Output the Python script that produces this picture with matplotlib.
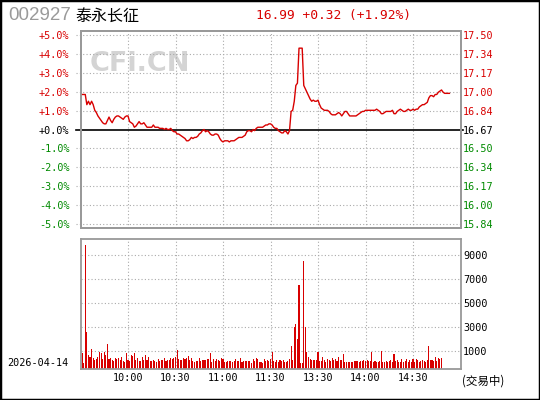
import numpy as np
import matplotlib
matplotlib.use("Agg")
import matplotlib.pyplot as plt
from matplotlib.patches import Rectangle

# dados do gráfico (minuto a minuto)
codigo = "002927"
nome = "泰永长征"
data_pregao = "2026-04-14"
fechamento_anterior = 16.67
preco_atual = 16.99

precos = [
    16.98, 16.98, 16.98, 16.98, 16.89, 16.92, 16.89, 16.92, 16.89, 16.84,
    16.82, 16.79, 16.77, 16.75, 16.73, 16.72, 16.72, 16.75, 16.78, 16.75,
    16.73, 16.76, 16.78, 16.79, 16.79, 16.78, 16.77, 16.76, 16.78, 16.79,
    16.79, 16.74, 16.73, 16.72, 16.69, 16.70, 16.72, 16.74, 16.72, 16.72,
    16.73, 16.71, 16.69, 16.69, 16.69, 16.69, 16.71, 16.69, 16.69, 16.69,
    16.68, 16.68, 16.68, 16.67, 16.68, 16.67, 16.67, 16.68, 16.66, 16.65,
    16.65, 16.63, 16.63, 16.62, 16.61, 16.60, 16.59, 16.57, 16.57, 16.58,
    16.60, 16.59, 16.60, 16.60, 16.61, 16.63, 16.64, 16.66, 16.67, 16.65,
    16.66, 16.65, 16.63, 16.62, 16.62, 16.63, 16.63, 16.62, 16.59, 16.57,
    16.56, 16.57, 16.57, 16.57, 16.56, 16.57, 16.57, 16.57, 16.58, 16.59,
    16.60, 16.60, 16.60, 16.61, 16.62, 16.65, 16.66, 16.66, 16.65, 16.67,
    16.66, 16.68, 16.69, 16.69, 16.69, 16.69, 16.70, 16.71, 16.71, 16.72,
    16.72, 16.71, 16.69, 16.68, 16.68, 16.66, 16.65, 16.64, 16.64, 16.66,
    16.65, 16.63, 16.66, 16.83, 16.84, 16.92, 17.06, 17.08, 17.39, 17.39,
    17.39, 17.06, 17.03, 17.00, 16.97, 16.94, 16.92, 16.93, 16.92, 16.92,
    16.93, 16.89, 16.86, 16.85, 16.84, 16.84, 16.84, 16.83, 16.81, 16.80,
    16.80, 16.80, 16.81, 16.82, 16.81, 16.79, 16.81, 16.83, 16.83, 16.81,
    16.79, 16.79, 16.79, 16.79, 16.79, 16.80, 16.81, 16.82, 16.83, 16.83,
    16.84, 16.84, 16.84, 16.84, 16.84, 16.84, 16.84, 16.85, 16.84, 16.83,
    16.81, 16.81, 16.82, 16.83, 16.83, 16.83, 16.83, 16.84, 16.81, 16.81,
    16.83, 16.84, 16.85, 16.84, 16.83, 16.83, 16.84, 16.85, 16.84, 16.84,
    16.85, 16.84, 16.85, 16.85, 16.87, 16.88, 16.89, 16.89, 16.90, 16.91,
    16.95, 16.97, 16.97, 16.96, 16.98, 16.98, 17.00, 17.01, 17.02, 17.00,
    16.99, 16.99, 16.99, 16.99,
]

volumes = [
    0, 820, 0, 9820, 2610, 680, 540, 1150, 400, 260,
    350, 540, 960, 820, 350, 960, 680, 1560, 350, 400,
    260, 180, 460, 350, 400, 300, 540, 180, 130, 820,
    230, 180, 680, 620, 820, 300, 400, 180, 180, 490,
    260, 680, 300, 540, 180, 180, 230, 180, 130, 350,
    180, 260, 300, 400, 180, 240, 300, 400, 350, 460,
    540, 1090, 346, 263, 300, 404, 346, 459, 622, 300,
    404, 181, 126, 200, 181, 404, 181, 263, 263, 300,
    346, 346, 817, 71, 346, 181, 346, 263, 200, 404,
    346, 126, 126, 181, 150, 181, 71, 200, 346, 181,
    200, 459, 71, 181, 181, 181, 200, 181, 0, 346,
    200, 459, 346, 71, 71, 0, 346, 180, 263, 181,
    346, 957, 181, 100, 240, 100, 280, 150, 240, 100,
    100, 200, 380, 1400, 300, 3030, 3250, 2030, 6530, 0,
    0, 8520, 2970, 900, 515, 380, 300, 280, 240, 240,
    900, 180, 150, 515, 240, 100, 380, 240, 150, 470,
    240, 380, 150, 520, 300, 240, 735, 100, 70, 100,
    70, 60, 100, 150, 150, 150, 100, 150, 200, 240,
    150, 240, 150, 200, 900, 100, 150, 70, 100, 200,
    980, 70, 100, 150, 100, 150, 240, 100, 790, 150,
    240, 70, 100, 380, 70, 150, 380, 70, 240, 100,
    380, 70, 380, 240, 100, 200, 300, 150, 100, 240,
    1400, 240, 300, 200, 520, 150, 470, 380, 470,
]

pct_ticks = [5, 4, 3, 2, 1, 0, -1, -2, -3, -4, -5]
pct_labels = ["+5.0%", "+4.0%", "+3.0%", "+2.0%", "+1.0%", "+0.0%",
              "-1.0%", "-2.0%", "-3.0%", "-4.0%", "-5.0%"]
preco_labels = ["17.50", "17.34", "17.17", "17.00", "16.84", "16.67",
                "16.50", "16.34", "16.17", "16.00", "15.84"]
vol_ticks = [1000, 3000, 5000, 7000, 9000]
hora_ticks = [30, 60, 90, 120, 150, 180, 210]
hora_labels = ["10:00", "10:30", "11:00", "11:30", "13:30", "14:00", "14:30"]

VERMELHO = "#d80000"
VERDE = "#008a00"
CINZA = "#999999"
GRADE = "#aaaaaa"
MONO = "DejaVu Sans Mono"

pct = (np.array(precos) / fechamento_anterior - 1) * 100
variacao = preco_atual - fechamento_anterior

fig = plt.figure(figsize=(5.4, 4.0), dpi=100)
fig.patch.set_facecolor("white")
fig.patches.append(Rectangle((0, 0), 1, 1, transform=fig.transFigure,
                             fill=False, edgecolor="black", linewidth=2.5))

ax = fig.add_axes([0.1491, 0.43, 0.7037, 0.4925])
axv = fig.add_axes([0.1491, 0.0775, 0.7037, 0.326])

def cor_pct(v):
    if v > 0:
        return VERMELHO
    if v < 0:
        return VERDE
    return "black"

# painel de preço
ax.set_xlim(0, 240)
ax.set_ylim(-5.23, 5.23)
for t in pct_ticks:
    if t == 0:
        continue
    ax.axhline(t, xmin=-0.012, xmax=1, color=GRADE, ls=(0, (1, 2)), lw=0.8, clip_on=False, zorder=1)
for t in hora_ticks:
    ax.axvline(t, color=GRADE, ls=(0, (1, 2)), lw=0.8, zorder=1)
ax.axhline(0, xmin=-0.012, xmax=1.006, color="black", lw=1.2, clip_on=False, zorder=2)
ax.plot(np.arange(len(pct)), pct, color=VERMELHO, lw=1.0, zorder=3)

ax.set_yticks(pct_ticks)
ax.set_yticklabels(pct_labels, fontfamily=MONO, fontsize=7.3)
for lbl, v in zip(ax.get_yticklabels(), pct_ticks):
    lbl.set_color(cor_pct(v))
ax.tick_params(axis="y", length=0, pad=8)
ax.set_xticks([])

ax2 = ax.twinx()
ax2.set_ylim(ax.get_ylim())
ax2.set_yticks(pct_ticks)
ax2.set_yticklabels(preco_labels, fontfamily=MONO, fontsize=7.3)
for lbl, v in zip(ax2.get_yticklabels(), pct_ticks):
    lbl.set_color(cor_pct(v))
ax2.tick_params(axis="y", length=0, pad=2)

for a in (ax, ax2, axv):
    for s in a.spines.values():
        s.set_color(CINZA)
        s.set_linewidth(1.3)

ax.text(0.155, 0.83, "CFi.CN", transform=ax.transAxes, ha="center", va="center",
        fontsize=19.5, fontweight="bold", color="#d4d4d4", zorder=0)

# painel de volume
piso = -480
axv.set_xlim(0, 240)
axv.set_ylim(piso, 10340)
for t in vol_ticks:
    axv.axhline(t, color=GRADE, ls=(0, (1, 2)), lw=0.8, zorder=1)
for t in hora_ticks:
    axv.axvline(t, color=GRADE, ls=(0, (1, 2)), lw=0.8, zorder=1)
xv = np.arange(len(volumes))
axv.bar(xv, np.array(volumes) - piso, bottom=piso, width=0.7, color=VERMELHO, linewidth=0, zorder=2)

axv.yaxis.tick_right()
axv.set_yticks(vol_ticks)
axv.set_yticklabels([str(v) for v in vol_ticks], fontfamily=MONO, fontsize=7.3)
axv.tick_params(axis="y", length=0, pad=2)
axv.set_xticks(hora_ticks)
axv.set_xticklabels(hora_labels, fontfamily=MONO, fontsize=7.3)
axv.tick_params(axis="x", length=0, pad=3)

# textos do topo
fig.text(8 / 540, 1 - 16 / 400, codigo, fontsize=13.5, color="#9a9a9a",
         family="Liberation Sans", va="center", ha="left")
fig.text(75 / 540, 1 - 16 / 400, nome, fontsize=11.5, color="black",
         family=["Noto Sans CJK SC", "DejaVu Sans"], va="center", ha="left")
fig.text(256 / 540, 1 - 15.5 / 400,
         f"{preco_atual:.2f} {variacao:+.2f} ({variacao / fechamento_anterior * 100:+.2f}%)",
         fontsize=9.3, color=VERMELHO, family=MONO, va="center", ha="left")

fig.text(7 / 540, 1 - 363 / 400, data_pregao, fontsize=7.3, family=MONO,
         color="black", va="center", ha="left")
fig.text(462 / 540, 1 - 381 / 400, "(交易中)", fontsize=8.3,
         family=["Noto Sans CJK SC", "DejaVu Sans"], color="black", va="center", ha="left")

fig.savefig("out.png", dpi=100)
